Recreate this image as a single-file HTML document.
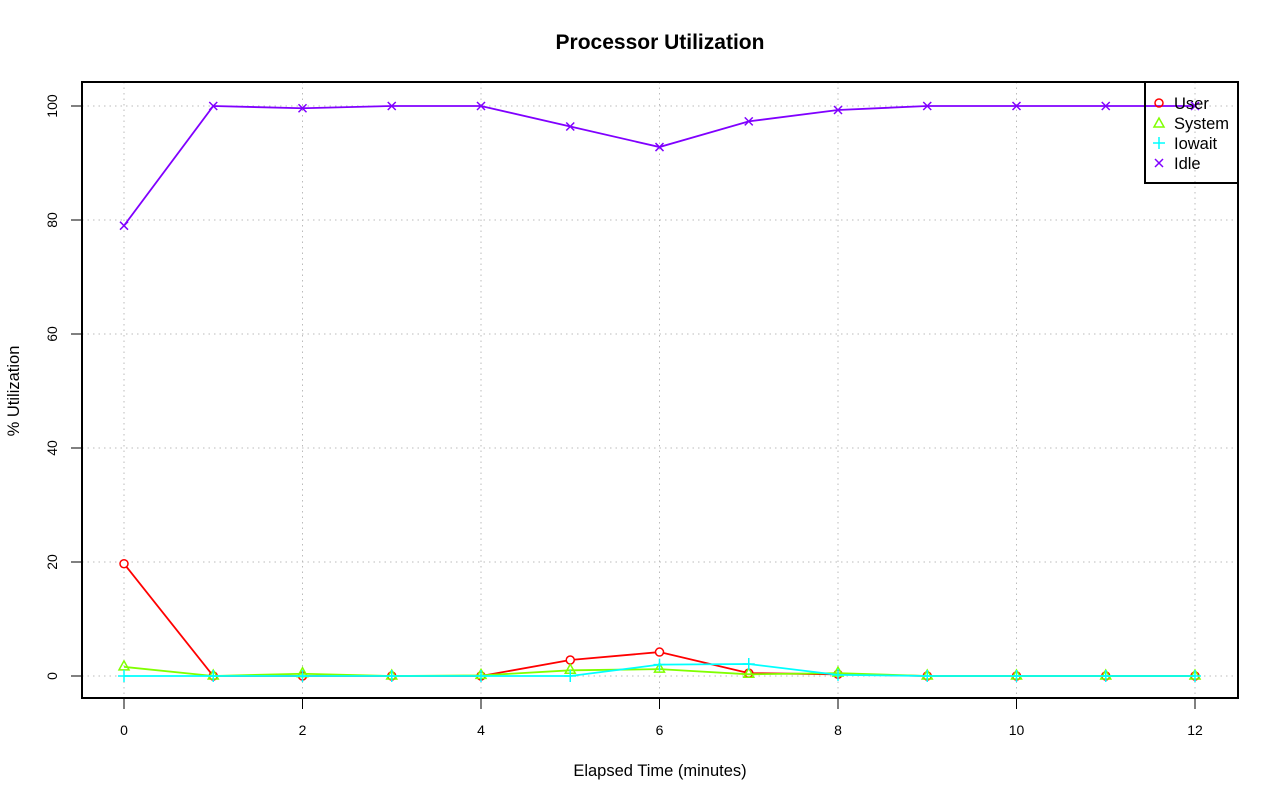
<!DOCTYPE html>
<html><head><meta charset="utf-8"><style>
body{margin:0;background:#fff}
svg{display:block;font-family:"Liberation Sans",sans-serif}
</style></head><body>
<svg id="chart" width="1280" height="801" xmlns="http://www.w3.org/2000/svg">
<text x="660" y="49" text-anchor="middle" font-size="21" font-weight="bold">Processor Utilization</text>
<text x="660" y="776" text-anchor="middle" font-size="16.5">Elapsed Time (minutes)</text>
<text x="19" y="391" text-anchor="middle" font-size="16.5" transform="rotate(-90 19 391)">% Utilization</text>
<g id="grid"></g>
<g id="axes"></g>
<g id="series"></g>
<rect x="82" y="82" width="1156" height="616" fill="none" stroke="#000" stroke-width="2"/>
<g>
<rect x="1145" y="82" width="93" height="101" fill="none" stroke="#000" stroke-width="2"/>
<g><circle cx="1159" cy="103" r="4" fill="none" stroke="#ff0000" stroke-width="1.5"/><text x="1174" y="109" font-size="16.5">User</text></g>
<g><polygon points="1159,118 1154,127 1164,127" fill="none" stroke="#80ff00" stroke-width="1.5"/><text x="1174" y="129" font-size="16.5">System</text></g>
<g><path d="M1153,143H1165M1159,137V149" stroke="#00ffff" stroke-width="1.5"/><text x="1174" y="149" font-size="16.5">Iowait</text></g>
<g><path d="M1155,159L1163,167M1163,159L1155,167" stroke="#8000ff" stroke-width="1.5"/><text x="1174" y="169" font-size="16.5">Idle</text></g>
</g>
</svg>
<script>
const minutes=[0,1,2,3,4,5,6,7,8,9,10,11,12];
const userVals=[19.7,0,0,0,0,2.8,4.2,0.5,0.3,0,0,0,0];
const systemVals=[1.6,0,0.4,0,0.1,1.0,1.2,0.3,0.5,0,0,0,0];
const iowaitVals=[0,0,0,0,0,0,2.0,2.1,0.2,0,0,0,0];
const idleVals=[79,100,99.6,100,100,96.4,92.8,97.3,99.3,100,100,100,100];
const xTicks=[0,2,4,6,8,10,12];
const yTicks=[0,20,40,60,80,100];
const NS="http://www.w3.org/2000/svg";
const xs=v=>124+v*(1195-124)/12;
const ys=v=>676-v*5.7;
function mk(t,a,p){const e=document.createElementNS(NS,t);for(const k in a)e.setAttribute(k,a[k]);p.appendChild(e);return e;}
const grid=document.getElementById('grid'),axes=document.getElementById('axes'),ser=document.getElementById('series');
xTicks.forEach(t=>{
 const g=mk('line',{x1:xs(t),x2:xs(t),y1:82,y2:698,stroke:'#bbb','stroke-dasharray':'1.5,4'},grid);
 
 
 const tk=mk('line',{x1:xs(t),x2:xs(t),y1:698,y2:709,stroke:'#000'},axes);
 
 
 const l=mk('text',{x:xs(t),y:735,'text-anchor':'middle','font-size':14},axes);l.textContent=t;
 
 
});
yTicks.forEach(t=>{
 const g=mk('line',{x1:82,x2:1238,y1:ys(t),y2:ys(t),stroke:'#bbb','stroke-dasharray':'1.5,4'},grid);
 
 
 const tk=mk('line',{x1:71,x2:82,y1:ys(t),y2:ys(t),stroke:'#000'},axes);
 
 
 const l=mk('text',{x:57,y:ys(t),'text-anchor':'middle','font-size':14,transform:`rotate(-90 57 ${ys(t)})`},axes);l.textContent=t;
 
 
});
const series=[['user',userVals,'#ff0000','o'],['system',systemVals,'#80ff00','t'],['iowait',iowaitVals,'#00ffff','p'],['idle',idleVals,'#8000ff','x']];
series.forEach(([n,vals,c,s])=>{
 const pl=mk('polyline',{points:vals.map((v,i)=>xs(minutes[i])+','+ys(v)).join(' '),fill:'none',stroke:c,'stroke-width':1.8},ser);
 
 
 vals.forEach((v,i)=>{
  const x=xs(minutes[i]),y=ys(v);let m;
  if(s==='o')m=mk('circle',{cx:x,cy:y,r:4,fill:'#fff',stroke:c,'stroke-width':1.5},ser);
  else if(s==='t')m=mk('polygon',{points:`${x},${y-6} ${x-5},${y+3} ${x+5},${y+3}`,fill:'none',stroke:c,'stroke-width':1.5},ser);
  else if(s==='p')m=mk('path',{d:`M${x-6},${y}H${x+6}M${x},${y-6}V${y+6}`,stroke:c,'stroke-width':1.5},ser);
  else m=mk('path',{d:`M${x-4},${y-4}L${x+4},${y+4}M${x+4},${y-4}L${x-4},${y+4}`,stroke:c,'stroke-width':1.5},ser);
  
  
 });
});
</script>
</body></html>
